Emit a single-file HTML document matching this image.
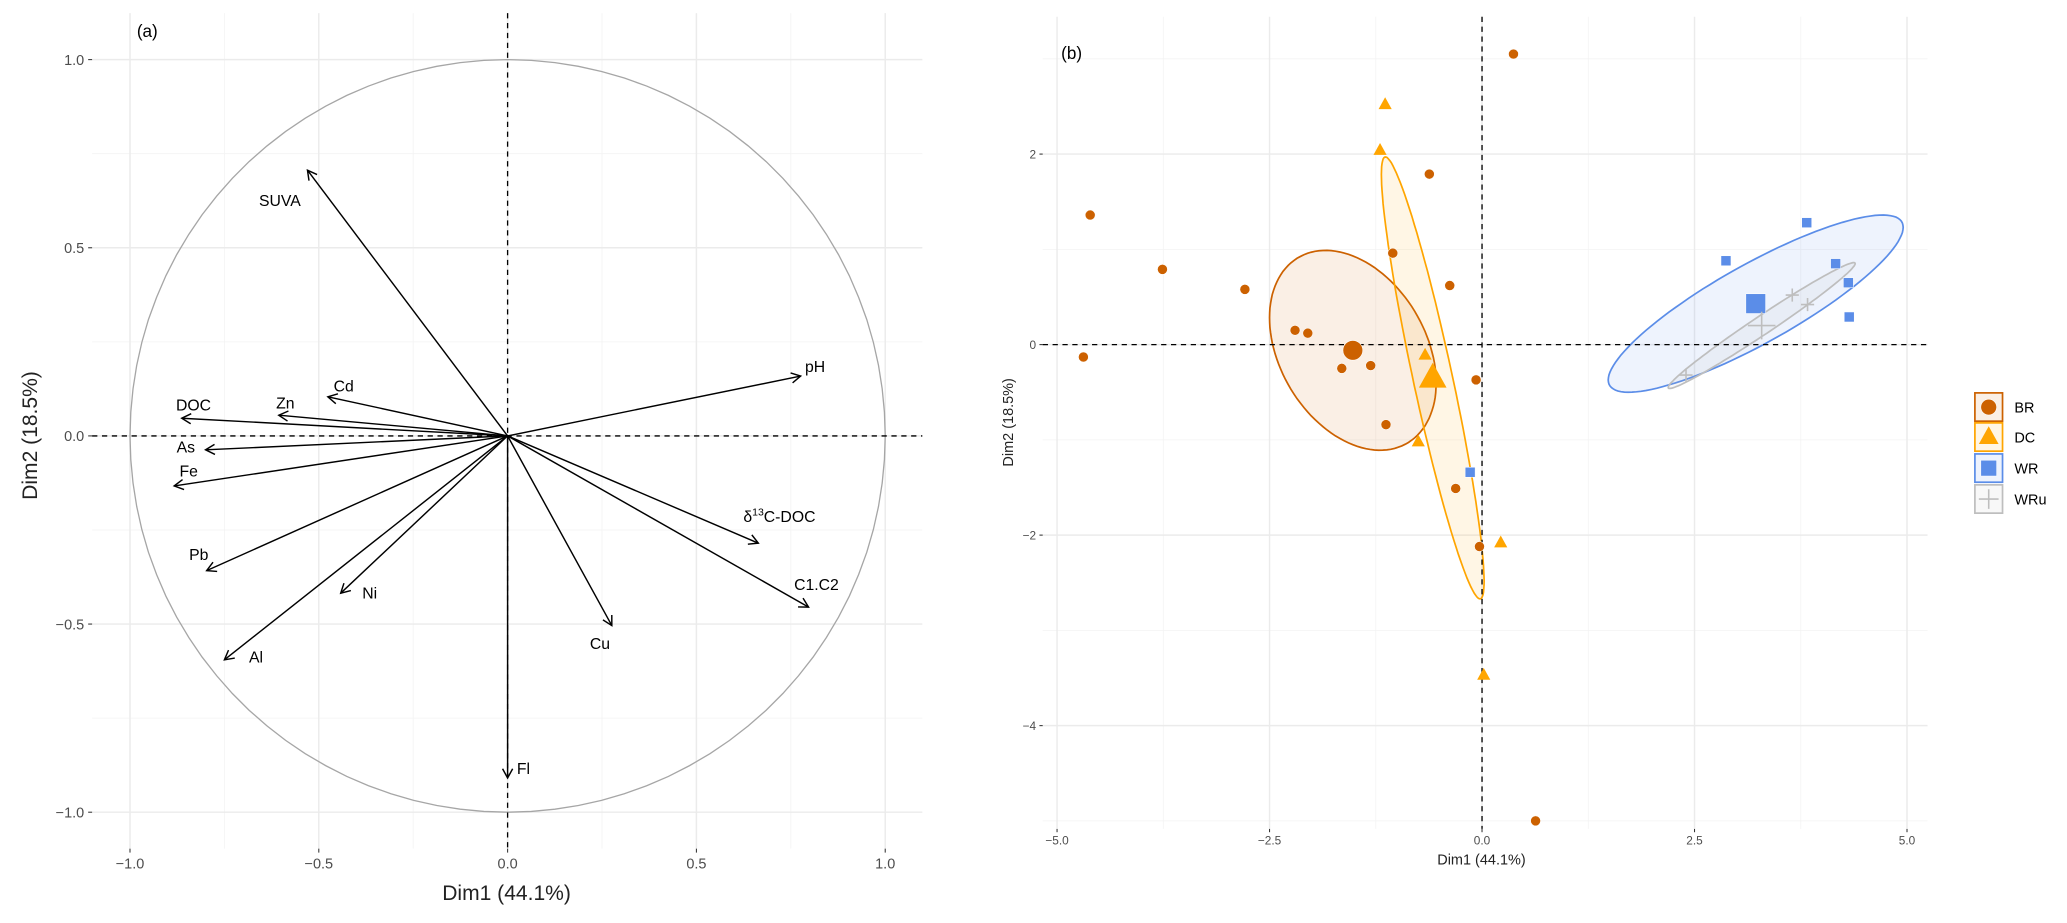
<!DOCTYPE html>
<html><head><meta charset="utf-8"><style>
html,body{margin:0;padding:0;background:#fff;}
svg{display:block;font-family:"Liberation Sans",Arial,sans-serif;}
</style></head><body>
<svg id="chart" width="2067" height="923" viewBox="0 0 1571 701.5" xmlns="http://www.w3.org/2000/svg">
<g id="pa"></g>
<g id="pb"></g>
<g id="lg"></g>
</svg>
<script>
// ---- Panel (a) data: variable loadings ----
const varNames = ["SUVA","pH","δ13C-DOC","C1.C2","Cu","Fl","Al","Ni","Pb","Fe","As","DOC","Zn","Cd"];
const varDim1 = [-0.53,0.776,0.664,0.797,0.276,0.0,-0.75,-0.442,-0.797,-0.883,-0.80,-0.863,-0.606,-0.476];
const varDim2 = [0.706,0.159,-0.285,-0.455,-0.504,-0.909,-0.595,-0.418,-0.358,-0.133,-0.037,0.047,0.055,0.104];
const aTicks = [-1.0,-0.5,0.0,0.5,1.0];
const aTickLabels = ["−1.0","−0.5","0.0","0.5","1.0"];
// ---- Panel (b) data: individuals ----
const brX = [-4.61,-3.76,-2.79,-4.69,-2.20,-2.05,-1.65,-1.31,-1.13,-0.62,-1.05,-0.38,-0.07,0.37,-0.31,-0.03,0.63];
const brY = [1.36,0.79,0.58,-0.13,0.15,0.12,-0.25,-0.22,-0.84,1.79,0.96,0.62,-0.37,3.05,-1.51,-2.12,-5.0];
const dcX = [-1.14,-1.20,-0.67,-0.75,0.22,0.02];
const dcY = [2.52,2.04,-0.11,-1.02,-2.08,-3.47];
const wrX = [2.87,3.82,4.16,4.31,4.32,-0.14];
const wrY = [0.88,1.28,0.85,0.65,0.29,-1.34];
const wruX = [2.40,3.65,3.83];
const wruY = [-0.32,0.52,0.42];
const groupNames = ["BR","DC","WR","WRu"];
const centroidX = [-1.52,-0.58,3.22,3.29];
const centroidY = [-0.06,-0.35,0.43,0.20];
const ellVarX = [0.961,0.365,3.01,1.21];
const ellVarY = [1.10,5.38,0.865,0.436];
const ellCov = [-0.336,-1.29,1.39,0.715];
const bXTicks = [-5.0,-2.5,0.0,2.5,5.0];
const bXTickLabels = ["−5.0","−2.5","0.0","2.5","5.0"];
const bYTicks = [-4,-2,0,2];
const bYTickLabels = ["−4","−2","0","2"];

const NS="http://www.w3.org/2000/svg";
function mk(parent,tag,attrs,text){const e=document.createElementNS(NS,tag);for(const k in attrs)e.setAttribute(k,attrs[k]);if(text!==undefined)e.textContent=text;parent.appendChild(e);return e;}

// ===== Panel A =====
const pa=document.getElementById('pa');
const A={x0:70,x1:701,y0:10,y1:645,cx:385.8,cy:331.3,kx:287,ky:286};
const ax=v=>A.cx+v*A.kx, ay=v=>A.cy-v*A.ky;
let bg=mk(pa,'rect',{x:A.x0,y:A.y0,width:A.x1-A.x0,height:A.y1-A.y0,fill:'#fff'});

[-0.75,-0.25,0.25,0.75].forEach(v=>{
  let g=mk(pa,'line',{x1:ax(v),x2:ax(v),y1:A.y0,y2:A.y1,stroke:'#f3f3f3','stroke-width':0.6});
  
  g=mk(pa,'line',{x1:A.x0,x2:A.x1,y1:ay(v),y2:ay(v),stroke:'#f3f3f3','stroke-width':0.6});
  
});
aTicks.forEach((v,i)=>{
  let g=mk(pa,'line',{x1:ax(v),x2:ax(v),y1:A.y0,y2:A.y1,stroke:'#ebebeb','stroke-width':1.1});
  
  g=mk(pa,'line',{x1:A.x0,x2:A.x1,y1:ay(v),y2:ay(v),stroke:'#ebebeb','stroke-width':1.1});
  
  let t=mk(pa,'text',{x:ax(v),y:A.y1+15,'text-anchor':'middle','font-size':11,fill:'#4d4d4d'},aTickLabels[i]);
  
  t=mk(pa,'text',{x:A.x0-6,y:ay(v)+4,'text-anchor':'end','font-size':11,fill:'#4d4d4d'},aTickLabels[i]);
  
  mk(pa,'line',{x1:ax(v),x2:ax(v),y1:A.y1,y2:A.y1+3,stroke:'#333','stroke-width':0.8});
  mk(pa,'line',{x1:A.x0-3,x2:A.x0,y1:ay(v),y2:ay(v),stroke:'#333','stroke-width':0.8});
});
let pts=[];for(let i=0;i<=100;i++){const t=i/100*2*Math.PI;pts.push(ax(Math.cos(t)).toFixed(1)+','+ay(Math.sin(t)).toFixed(1));}
let circ=mk(pa,'polygon',{points:pts.join(' '),fill:'none',stroke:'#a6a6a6','stroke-width':1});

let d1=mk(pa,'line',{x1:A.x0,x2:A.x1,y1:ay(0),y2:ay(0),stroke:'#000','stroke-width':1,'stroke-dasharray':'4,3.5'});

let d2=mk(pa,'line',{x1:ax(0),x2:ax(0),y1:A.y0,y2:A.y1,stroke:'#000','stroke-width':1,'stroke-dasharray':'4,3.5'});

const labelOffsets=[[-21,23],[11,-7],[16,-20],[6,-17],[-9,14],[12,-7],[24,-2],[22,0],[-6,-12],[11,-11],[-15,-2],[9,-10],[5,-9],[12,-8]];
varNames.forEach((n,i)=>{
  const x=ax(varDim1[i]),y=ay(varDim2[i]);
  const g=mk(pa,'g',{});
  
  
  mk(g,'line',{x1:A.cx,y1:A.cy,x2:x,y2:y,stroke:'#000','stroke-width':1.1});
  const ang=Math.atan2(y-A.cy,x-A.cx),L=8,w=0.5;
  mk(g,'polyline',{points:`${x-L*Math.cos(ang-w)},${y-L*Math.sin(ang-w)} ${x},${y} ${x-L*Math.cos(ang+w)},${y-L*Math.sin(ang+w)}`,fill:'none',stroke:'#000','stroke-width':1.1});
  const lx=x+labelOffsets[i][0],ly=y+labelOffsets[i][1]+4;
  let t;
  if(n==="δ13C-DOC"){t=mk(g,'text',{x:lx,y:ly,'text-anchor':'middle','font-size':12});
    const s1=document.createElementNS(NS,'tspan');s1.textContent='δ';t.appendChild(s1);
    const s2=document.createElementNS(NS,'tspan');s2.setAttribute('dy','-5');s2.setAttribute('font-size','8');s2.textContent='13';t.appendChild(s2);
    const s3=document.createElementNS(NS,'tspan');s3.setAttribute('dy','5');s3.textContent='C-DOC';t.appendChild(s3);}
  else t=mk(g,'text',{x:lx,y:ly,'text-anchor':'middle','font-size':12},n);
  
});
let ta=mk(pa,'text',{x:A.x0+34,y:A.y0+18,'font-size':13},'(a)');
let xta=mk(pa,'text',{x:385,y:684,'text-anchor':'middle','font-size':16,fill:'#222'},'Dim1 (44.1%)');
let yta=mk(pa,'text',{x:0,y:0,'text-anchor':'middle','font-size':16,fill:'#222',transform:'translate(28,331) rotate(-90)'},'Dim2 (18.5%)');

// ===== Panel B =====
const pb=document.getElementById('pb');
const B={x0:792.5,x1:1465,y0:12.7,y1:630,cx:1126.4,cy:261.9,kx:64.6,ky:72.4};
const bx=v=>B.cx+v*B.kx, by=v=>B.cy-v*B.ky;
[-3.75,-1.25,1.25,3.75].forEach(v=>{let g=mk(pb,'line',{x1:bx(v),x2:bx(v),y1:B.y0,y2:B.y1,stroke:'#f3f3f3','stroke-width':0.6});});
[-5,-3,-1,1,3].forEach(v=>{let g=mk(pb,'line',{x1:B.x0,x2:B.x1,y1:by(v),y2:by(v),stroke:'#f3f3f3','stroke-width':0.6});});
bXTicks.forEach((v,i)=>{
  let g=mk(pb,'line',{x1:bx(v),x2:bx(v),y1:B.y0,y2:B.y1,stroke:'#ebebeb','stroke-width':1.1});
  let t=mk(pb,'text',{x:bx(v),y:B.y1+12,'text-anchor':'middle','font-size':9,fill:'#4d4d4d'},bXTickLabels[i]);
  mk(pb,'line',{x1:bx(v),x2:bx(v),y1:B.y1,y2:B.y1+2.5,stroke:'#333','stroke-width':0.8});
});
bYTicks.forEach((v,i)=>{
  let g=mk(pb,'line',{x1:B.x0,x2:B.x1,y1:by(v),y2:by(v),stroke:'#ebebeb','stroke-width':1.1});
  let t=mk(pb,'text',{x:B.x0-5,y:by(v)+3.5,'text-anchor':'end','font-size':9,fill:'#4d4d4d'},bYTickLabels[i]);
  mk(pb,'line',{x1:B.x0-2.5,x2:B.x0,y1:by(v),y2:by(v),stroke:'#333','stroke-width':0.8});
});
const colors=["#cc6100","#ffa500","#5b8de8","#bebebe"];
groupNames.forEach((n,i)=>{
  const L11=Math.sqrt(ellVarX[i]),L21=ellCov[i]/L11,L22=Math.sqrt(Math.max(ellVarY[i]-L21*L21,1e-4));
  let p=[];for(let k=0;k<=120;k++){const t=k/120*2*Math.PI;const x=centroidX[i]+L11*Math.cos(t),y=centroidY[i]+L21*Math.cos(t)+L22*Math.sin(t);p.push(bx(x).toFixed(1)+','+by(y).toFixed(1));}
  let e=mk(pb,'polygon',{points:p.join(' '),fill:colors[i],'fill-opacity':0.1,stroke:colors[i],'stroke-width':1.3});
  
});
let e1=mk(pb,'line',{x1:B.x0,x2:B.x1,y1:by(0),y2:by(0),stroke:'#000','stroke-width':1,'stroke-dasharray':'4,3.5'});
let e2=mk(pb,'line',{x1:bx(0),x2:bx(0),y1:B.y0,y2:B.y1,stroke:'#000','stroke-width':1,'stroke-dasharray':'4,3.5'});
function marker(parent,shape,x,y,s,col){
  if(shape===0)return mk(parent,'circle',{cx:x,cy:y,r:s/2,fill:col,stroke:'#fff','stroke-width':0.4});
  if(shape===1)return mk(parent,'polygon',{points:`${x},${y-s*0.55} ${x-s/2},${y+s*0.35} ${x+s/2},${y+s*0.35}`,fill:col});
  if(shape===2)return mk(parent,'rect',{x:x-s/2,y:y-s/2,width:s,height:s,fill:col,stroke:'#fff','stroke-width':0.4});
  return mk(parent,'path',{d:`M${x-s/2},${y}H${x+s/2}M${x},${y-s/2}V${y+s/2}`,stroke:col,'stroke-width':1.2,fill:'none'});
}
const gx=[brX,dcX,wrX,wruX],gy=[brY,dcY,wrY,wruY],small=[7.6,10,7.6,10],big=[15,21,15,21];
groupNames.forEach((n,i)=>{
  gx[i].forEach((v,j)=>{const m=marker(pb,i,bx(v),by(gy[i][j]),small[i],colors[i]);
    });
  const c=marker(pb,i,bx(centroidX[i]),by(centroidY[i]),big[i],colors[i]);
  
});
let tb=mk(pb,'text',{x:B.x0+14,y:B.y0+32,'font-size':13},'(b)');
let xtb=mk(pb,'text',{x:1126,y:657,'text-anchor':'middle','font-size':11,fill:'#222'},'Dim1 (44.1%)');
let ytb=mk(pb,'text',{x:0,y:0,'text-anchor':'middle','font-size':11,fill:'#222',transform:'translate(770,321) rotate(-90)'},'Dim2 (18.5%)');

// ===== Legend =====
const lg=document.getElementById('lg');
const rowY=[298.6,321.4,345,368.5];
groupNames.forEach((n,i)=>{
  const g=mk(lg,'g',{});
  
  mk(g,'rect',{x:1501,y:rowY[i],width:21,height:21.5,fill:colors[i],'fill-opacity':0.1,stroke:colors[i],'stroke-width':1.3});
  marker(g,i,1511.5,rowY[i]+10.8,i%2?15:12,colors[i]);
  mk(g,'text',{x:1531,y:rowY[i]+15,'font-size':11,fill:'#000'},n);
});
</script>
</body></html>
